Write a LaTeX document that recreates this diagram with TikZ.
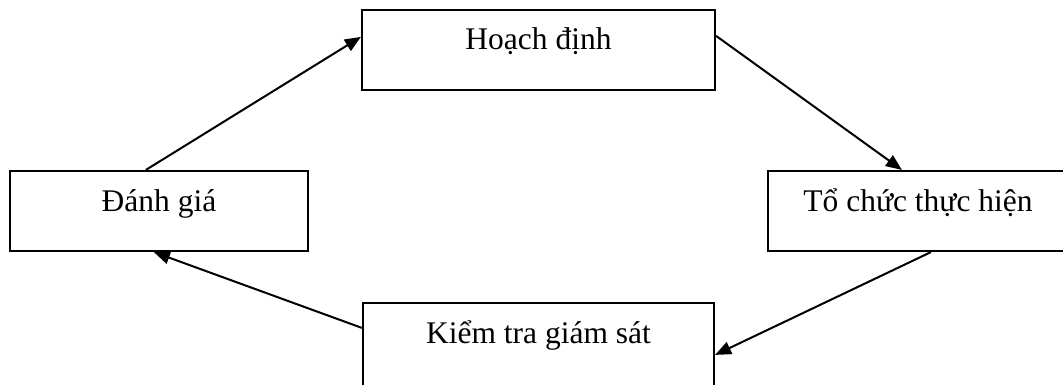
\documentclass[tikz,border=0pt]{standalone}
\usepackage{fontspec}
\setmainfont{Liberation Serif}
\usetikzlibrary{arrows.meta}
\tikzset{
  stagebox/.style={draw, line width=2.2pt, rectangle, inner sep=0pt,
    text height=40pt, text depth=40pt,
    font=\fontsize{31.5}{36}\selectfont},
  flow/.style={line width=2pt, -{Triangle[length=16pt,width=13pt]}}
}
\begin{document}
\begin{tikzpicture}[x=1pt,y=-1pt]
  \useasboundingbox (0,0) rectangle (1063,385);
  \clip (0,0) rectangle (1063,385);
  \fill[white] (0,0) rectangle (1063,385);

  % the four stages of the cycle
  \node[stagebox, minimum width=353pt] (hd) at (538.5,50) {Hoạch định};
  \node[stagebox, minimum width=298pt] (dg) at (159,211) {Đánh giá};
  \node[stagebox, minimum width=300pt] (tc) at (918,211) {Tổ chức thực hiện};
  \node[stagebox, minimum width=351pt, text depth=44pt] (kt) at (538.5,345) {Kiểm tra giám sát};

  % connectors, clockwise
  \draw[flow] ([xshift=137pt]dg.north west) -- ([yshift=-28pt]hd.north west);
  \draw[flow] ([yshift=-27pt]hd.north east) -- ([xshift=135pt]tc.north west);
  \draw[flow] ([xshift=164pt]tc.south west) -- ([yshift=-53pt]kt.north east);
  \draw[flow] ([yshift=-26pt]kt.north west) -- ([xshift=145pt]dg.south west);
\end{tikzpicture}
\end{document}
